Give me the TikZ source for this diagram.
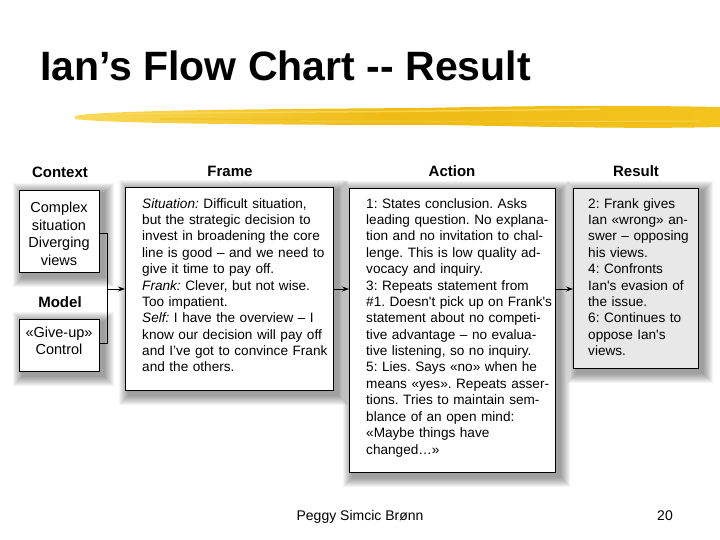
\documentclass[tikz,border=0pt]{standalone}
\usepackage{fontspec}
\setmainfont{Liberation Sans}
\usetikzlibrary{arrows.meta}
\definecolor{brushA}{RGB}{244,196,30}
\definecolor{brushB}{RGB}{238,186,20}
\definecolor{brushC}{RGB}{250,218,90}
\definecolor{resfill}{RGB}{232,232,232}
\frenchspacing
\tikzset{
  box/.style={draw=black, line width=1.2pt, fill=white, inner sep=0pt, anchor=north west},
  txt/.style={inner sep=0pt, anchor=base west, align=left, text width=200pt,
    font=\fontsize{13.6}{16.4}\selectfont\frenchspacing},
  ctxt/.style={inner sep=0pt, anchor=base, align=center, text width=80pt,
    font=\fontsize{14.5}{17.4}\selectfont},
  head/.style={inner sep=0pt, anchor=base, font=\bfseries\fontsize{15}{18}\selectfont},
  conn/.style={line width=0.9pt, -{Stealth[length=7pt,width=5pt]}},
  brk/.style={line width=0.9pt},
}
\newcommand{\softshadow}[4]{%
  \foreach \k in {1,...,10}{%
    \fill[black, opacity=0.045] ({#1+4-\k},{#2+3-\k}) rectangle ({#3+5+\k},{#4+5+\k});
  }%
}
\begin{document}
\begin{tikzpicture}[x=1pt,y=-1pt]
\useasboundingbox (0,0) rectangle (720,540);
\fill[white] (0,0) rectangle (720,540);

% title
\node[inner sep=0pt, anchor=base west, font=\bfseries\fontsize{41}{45}\selectfont] (title) at (40,81) {Ian’s Flow Chart -{}- Result};

% brush stroke
\shade[left color=brushC, right color=brushA, middle color=brushB]
  (75,116) .. controls (100,110) and (280,109) .. (420,108)
  .. controls (520,106) and (620,105) .. (720,107)
  -- (720,127) .. controls (640,129) and (560,127) .. (440,125)
  .. controls (300,125) and (110,124) .. (75,119) -- cycle;
\draw[brushC, line width=1.5pt, opacity=0.8] (110,114) .. controls (250,112) and (400,112) .. (600,109);
\draw[brushC, line width=1pt, opacity=0.7] (300,121) .. controls (420,121) and (520,122) .. (700,121);
\draw[brushB, line width=1.2pt, opacity=0.6] (160,119) .. controls (300,119) and (450,121) .. (690,124);

% headers
\node[head] (hctx) at (60,178) {Context};
\node[head] (hfrm) at (230,177) {Frame};
\node[head] (hact) at (452,177) {Action};
\node[head] (hres) at (636,177) {Result};
\node[head] (hmod) at (60,307) {Model};

% shadows
\softshadow{19}{190}{99}{272}
\softshadow{19}{319}{99}{371}
\softshadow{125}{187}{333}{390}
\softshadow{349}{188}{555}{472}
\softshadow{573}{188}{698}{368}

% boxes
\node[box, minimum width=80pt, minimum height=82pt] (ctx) at (19,190) {};
\node[box, minimum width=80pt, minimum height=52pt] (mod) at (19,319) {};
\node[box, minimum width=208pt, minimum height=203pt] (frm) at (125,187) {};
\node[box, minimum width=206pt, minimum height=284pt] (act) at (349,188) {};
\node[box, fill=resfill, minimum width=125pt, minimum height=180pt] (res) at (573,188) {};

% texts
\node[ctxt] (ctxtxt) at (59,213) {Complex\\situation\\Diverging\\views};
\node[ctxt] (modtxt) at (59,337) {«Give-up»\\Control};

\node[txt] (frmtxt) at (142,208) {\textit{Situation:} Difficult situation,\\
but the strategic decision to\\
invest in broadening the core\\
line is good – and we need to\\
give it time to pay off.\\
\textit{Frank:} Clever, but not wise.\\
Too impatient.\\
\textit{Self:} I have the overview – I\\
know our decision will pay off\\
and I’ve got to convince Frank\\
and the others.};

\node[txt] (acttxt) at (366,208) {1: States conclusion. Asks\\
leading question. No explana-\\
tion and no invitation to chal-\\
lenge. This is low quality ad-\\
vocacy and inquiry.\\
3: Repeats statement from\\
\#1. Doesn\textquotesingle t pick up on Frank\textquotesingle s\\
statement about no competi-\\
tive advantage – no evalua-\\
tive listening, so no inquiry.\\
5: Lies. Says «no» when he\\
means «yes». Repeats asser-\\
tions. Tries to maintain sem-\\
blance of an open mind:\\
«Maybe things have\\
changed…»};

\node[txt] (restxt) at (588,208) {2: Frank gives\\
Ian «wrong» an-\\
swer – opposing\\
his views.\\
4: Confronts\\
Ian\textquotesingle s evasion of\\
the issue.\\
6: Continues to\\
oppose Ian\textquotesingle s\\
views.};

% connectors
\coordinate (bt) at (107,233);
\coordinate (bb) at (107,343);
\coordinate (bm) at (107,289);
\draw[brk] (ctx.east |- bt) -- (bt) -- (bb) -- (mod.east |- bb);
\draw[conn] (bm) -- (frm.west |- bm);
\draw[conn] (frm.east |- bm) -- (act.west |- bm);
\draw[conn] (act.east |- bm) -- (res.west |- bm);

% footer
\node[inner sep=0pt, anchor=base, font=\fontsize{14}{16}\selectfont] (foot) at (360,520) {Peggy Simcic Brønn};
\node[inner sep=0pt, anchor=base, font=\fontsize{14}{16}\selectfont] (pnum) at (665,520) {20};
\end{tikzpicture}
\end{document}
